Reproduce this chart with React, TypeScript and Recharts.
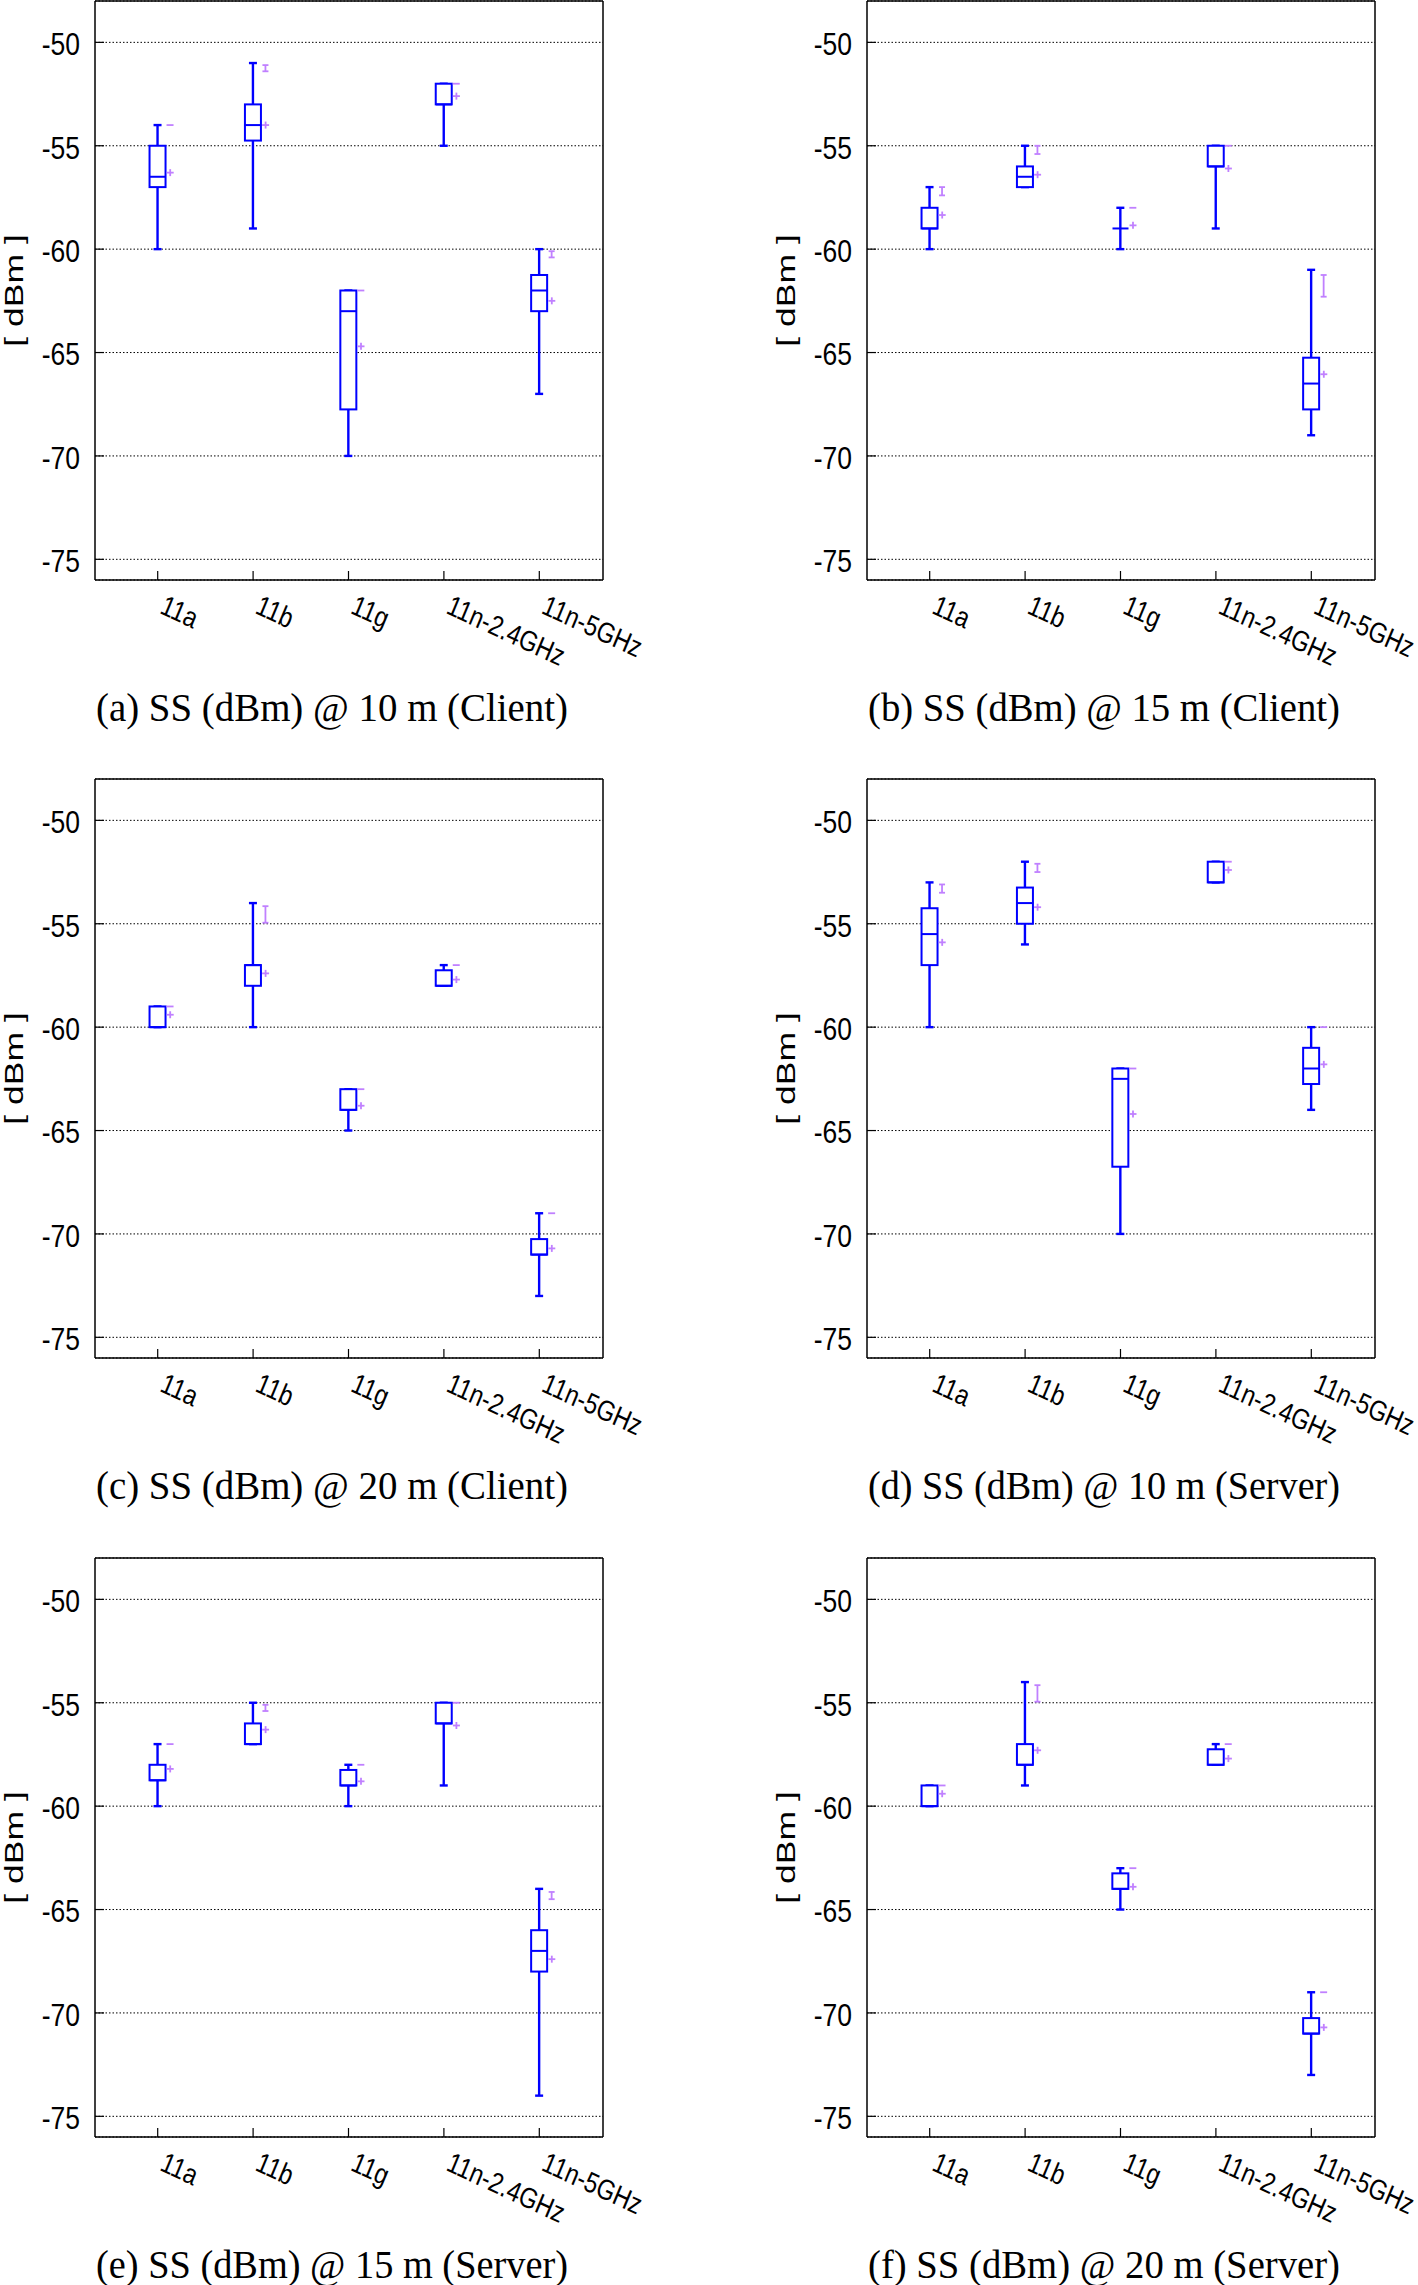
import React from "react";
import { ComposedChart, Bar, Scatter, XAxis, YAxis, CartesianGrid, Label } from "recharts";

const categories = ["11a", "11b", "11g", "11n-2.4GHz", "11n-5GHz"];
const yTicks = [-75, -70, -65, -60, -55, -50];

// (a) 10 m, client
const c10Min = [-60, -59, -70, -55, -67];
const c10Q1 = [-57, -54.75, -67.75, -53, -63];
const c10Med = [-56.5, -54, -63, -53, -62];
const c10Q3 = [-55, -53, -62, -52, -61.25];
const c10Max = [-54, -51, -62, -52, -60];
const c10Mean = [-56.3, -54, -64.7, -52.6, -62.5];
const c10ErrLo = [-54, -51.4, -62, -52, -60.4];
const c10ErrHi = [-54, -51.1, -62, -52, -60.1];

// (b) 15 m, client
const c15Min = [-60, -57, -60, -59, -69];
const c15Q1 = [-59, -57, -59, -56, -67.75];
const c15Med = [-59, -56.5, -59, -56, -66.5];
const c15Q3 = [-58, -56, -59, -55, -65.25];
const c15Max = [-57, -55, -58, -55, -61];
const c15Mean = [-58.35, -56.4, -58.85, -56.1, -66.05];
const c15ErrLo = [-57.4, -55.4, -58, -55, -62.3];
const c15ErrHi = [-57, -55, -58, -55, -61.25];

// (c) 20 m, client
const c20Min = [-60, -60, -65, -58, -73];
const c20Q1 = [-60, -58, -64, -58, -71];
const c20Med = [-60, -57, -64, -58, -71];
const c20Q3 = [-59, -57, -63, -57.25, -70.25];
const c20Max = [-59, -54, -63, -57, -69];
const c20Mean = [-59.4, -57.4, -63.8, -57.7, -70.7];
const c20ErrLo = [-59, -54.95, -63, -57, -69];
const c20ErrHi = [-59, -54.15, -63, -57, -69];

// (d) 10 m, server
const s10Min = [-60, -56, -70, -53, -64];
const s10Q1 = [-57, -55, -66.75, -53, -62.75];
const s10Med = [-55.5, -54, -62.5, -53, -62];
const s10Q3 = [-54.25, -53.25, -62, -52, -61];
const s10Max = [-53, -52, -62, -52, -60];
const s10Mean = [-55.9, -54.2, -64.2, -52.4, -61.8];
const s10ErrLo = [-53.5, -52.5, -62, -52, -60];
const s10ErrHi = [-53.1, -52.1, -62, -52, -60];

// (e) 15 m, server
const s15Min = [-60, -57, -60, -59, -74];
const s15Q1 = [-58.75, -57, -59, -56, -68];
const s15Med = [-58.75, -57, -59, -56, -67];
const s15Q3 = [-58, -56, -58.25, -55, -66];
const s15Max = [-57, -55, -58, -55, -64];
const s15Mean = [-58.2, -56.3, -58.8, -56.1, -67.4];
const s15ErrLo = [-57, -55.4, -58, -55, -64.5];
const s15ErrHi = [-57, -55.1, -58, -55, -64.15];

// (f) 20 m, server
const s20Min = [-60, -59, -65, -58, -73];
const s20Q1 = [-60, -58, -64, -58, -71];
const s20Med = [-60, -58, -64, -58, -71];
const s20Q3 = [-59, -57, -63.25, -57.25, -70.25];
const s20Max = [-59, -54, -63, -57, -69];
const s20Mean = [-59.4, -57.3, -63.9, -57.7, -70.7];
const s20ErrLo = [-59, -54.95, -63, -57, -69];
const s20ErrHi = [-59, -54.15, -63, -57, -69];

const BLUE = "#0000ff";
const MAGENTA = "#c080ff";
const SANS = "'Liberation Sans', Arial, Helvetica, sans-serif";
const SERIF = "'Liberation Serif', 'Times New Roman', serif";
const MAG_DX = 12.5;

type Stats = {
  min: number[]; q1: number[]; med: number[]; q3: number[]; max: number[];
  mean: number[]; errLo: number[]; errHi: number[];
};

const buildRows = (s: Stats) =>
  categories.map((name, i) => ({
    name,
    min: s.min[i], q1: s.q1[i], med: s.med[i], q3: s.q3[i], max: s.max[i],
    mean: s.mean[i], errLo: s.errLo[i], errHi: s.errHi[i],
  }));

const span = (p: any) => {
  const a = p.y, b = p.y + p.height;
  return { cx: p.x + p.width / 2, top: Math.min(a, b), bot: Math.max(a, b) };
};

const Whisker = (p: any) => {
  const { cx, top, bot } = span(p);
  return (
    <g stroke={BLUE} strokeWidth={2.4} fill="none">
      <line x1={cx} x2={cx} y1={top} y2={bot} />
      <line x1={cx - 4} x2={cx + 4} y1={top} y2={top} />
      <line x1={cx - 4} x2={cx + 4} y1={bot} y2={bot} />
    </g>
  );
};

const BoxShape = (p: any) => {
  const { cx, top, bot } = span(p);
  return <rect x={cx - 8} y={top} width={16} height={bot - top} fill="#fff" stroke={BLUE} strokeWidth={2} />;
};

const ErrShape = (p: any) => {
  const { cx, top, bot } = span(p);
  const x = cx + MAG_DX;
  if (bot - top < 1) {
    return <line x1={x - 3.5} x2={x + 3.5} y1={top} y2={top} stroke={MAGENTA} strokeWidth={1.8} />;
  }
  return (
    <g stroke={MAGENTA} strokeWidth={1.8}>
      <line x1={x} x2={x} y1={top} y2={bot} />
      <line x1={x - 3} x2={x + 3} y1={top} y2={top} />
      <line x1={x - 3} x2={x + 3} y1={bot} y2={bot} />
    </g>
  );
};

const MedianShape = (p: any) => (
  <line x1={p.cx - 8} x2={p.cx + 8} y1={p.cy} y2={p.cy} stroke={BLUE} strokeWidth={2} />
);

const MeanShape = (p: any) => {
  const x = p.cx + MAG_DX;
  return (
    <g stroke={MAGENTA} strokeWidth={1.8}>
      <line x1={x - 3.5} x2={x + 3.5} y1={p.cy} y2={p.cy} />
      <line x1={x} x2={x} y1={p.cy - 3.5} y2={p.cy + 3.5} />
    </g>
  );
};

const YTick = (p: any) => (
  <text
    transform={`translate(${p.x},${p.y}) scale(1.06,1.28)`}
    y={10}
    textAnchor="end"
    fontFamily={SANS}
    fontSize={25}
    fill="#000"
  >
    {p.payload.value}
  </text>
);

const XTick = (p: any) => (
  <text
    transform={`translate(${p.x + 1},${p.y}) scale(1,1.28) rotate(20) skewX(-8)`}
    textAnchor="start"
    fontFamily={SANS}
    fontSize={23}
    fill="#000"
  >
    {p.payload.value}
  </text>
);

const YLabel = (p: any) => {
  const vb = p.viewBox || { x: 0, y: 0, height: 0 };
  return (
    <text
      transform={`translate(${vb.x + 14},${vb.y + vb.height / 2}) scale(1,1.28) rotate(-90)`}
      textAnchor="middle"
      dominantBaseline="central"
      fontFamily={SANS}
      fontSize={26}
      textLength={88}
      lengthAdjust="spacingAndGlyphs"
      fill="#000"
    >
      [ dBm ]
    </text>
  );
};

const PAD = { left: 15, right: 16 };
const frame = { stroke: "#000", strokeWidth: 1.5 };
const tickMark = { stroke: "#000", strokeWidth: 1.2 };

function Panel({ left, top, caption, stats }: { left: number; top: number; caption: string; stats: Stats }) {
  const data = buildRows(stats);
  return (
    <div style={{ position: "absolute", left, top, width: 646, height: 760 }}>
      <ComposedChart width={646} height={700} data={data} margin={{ top: 0, right: 42, bottom: 0, left: 0 }}>
        <XAxis
          xAxisId="w"
          dataKey="name"
          type="category"
          padding={PAD}
          height={120}
          interval={0}
          tickSize={-9}
          tickMargin={41.7}
          tick={XTick}
          axisLine={frame}
          tickLine={tickMark}
        />
        <XAxis xAxisId="b" dataKey="name" type="category" orientation="top" padding={PAD} height={0} hide />
        <XAxis
          xAxisId="t"
          dataKey="name"
          type="category"
          orientation="top"
          padding={PAD}
          height={1}
          interval={0}
          tickSize={-9}
          tick={false}
          axisLine={frame}
          tickLine={tickMark}
        />
        <YAxis
          yAxisId="l"
          type="number"
          domain={[-76, -48]}
          ticks={yTicks}
          allowDataOverflow
          width={95}
          interval={0}
          tickSize={-9}
          tickMargin={24}
          tick={YTick}
          axisLine={frame}
          tickLine={tickMark}
        >
          <Label content={YLabel} />
        </YAxis>
        <YAxis
          yAxisId="r"
          orientation="right"
          type="number"
          domain={[-76, -48]}
          ticks={yTicks}
          allowDataOverflow
          width={1}
          interval={0}
          tickSize={-9}
          tick={false}
          axisLine={frame}
          tickLine={tickMark}
        />
        <CartesianGrid xAxisId="w" yAxisId="l" vertical={false} stroke="#000" strokeWidth={1} strokeDasharray="1.5 2" />
        <Bar xAxisId="w" yAxisId="l" dataKey={(d: any) => [d.min, d.max]} shape={Whisker} isAnimationActive={false} />
        <Bar xAxisId="b" yAxisId="r" dataKey={(d: any) => [d.q1, d.q3]} shape={BoxShape} isAnimationActive={false} />
        <Bar xAxisId="t" yAxisId="r" dataKey={(d: any) => [d.errLo, d.errHi]} shape={ErrShape} isAnimationActive={false} />
        <Scatter xAxisId="w" yAxisId="l" dataKey="med" shape={MedianShape} isAnimationActive={false} />
        <Scatter xAxisId="w" yAxisId="l" dataKey="mean" shape={MeanShape} isAnimationActive={false} />
      </ComposedChart>
      <svg style={{ position: "absolute", left: 0, top: 0 }} width={646} height={760}>
        <text x={96} y={721} fontFamily={SERIF} fontSize={39} textLength={472} lengthAdjust="spacingAndGlyphs" fill="#000">
          {caption}
        </text>
      </svg>
    </div>
  );
}

const panels = [
  { caption: "(a) SS (dBm) @ 10 m (Client)", left: 0, top: 0, stats: { min: c10Min, q1: c10Q1, med: c10Med, q3: c10Q3, max: c10Max, mean: c10Mean, errLo: c10ErrLo, errHi: c10ErrHi } },
  { caption: "(b) SS (dBm) @ 15 m (Client)", left: 772, top: 0, stats: { min: c15Min, q1: c15Q1, med: c15Med, q3: c15Q3, max: c15Max, mean: c15Mean, errLo: c15ErrLo, errHi: c15ErrHi } },
  { caption: "(c) SS (dBm) @ 20 m (Client)", left: 0, top: 778, stats: { min: c20Min, q1: c20Q1, med: c20Med, q3: c20Q3, max: c20Max, mean: c20Mean, errLo: c20ErrLo, errHi: c20ErrHi } },
  { caption: "(d) SS (dBm) @ 10 m (Server)", left: 772, top: 778, stats: { min: s10Min, q1: s10Q1, med: s10Med, q3: s10Q3, max: s10Max, mean: s10Mean, errLo: s10ErrLo, errHi: s10ErrHi } },
  { caption: "(e) SS (dBm) @ 15 m (Server)", left: 0, top: 1557, stats: { min: s15Min, q1: s15Q1, med: s15Med, q3: s15Q3, max: s15Max, mean: s15Mean, errLo: s15ErrLo, errHi: s15ErrHi } },
  { caption: "(f) SS (dBm) @ 20 m (Server)", left: 772, top: 1557, stats: { min: s20Min, q1: s20Q1, med: s20Med, q3: s20Q3, max: s20Max, mean: s20Mean, errLo: s20ErrLo, errHi: s20ErrHi } },
];

export default function App() {
  return (
    <div style={{ position: "absolute", left: 0, top: 0, width: 1418, height: 2285, background: "#fff", overflow: "hidden" }}>
      {panels.map((p) => (
        <Panel key={p.caption} left={p.left} top={p.top} caption={p.caption} stats={p.stats} />
      ))}
    </div>
  );
}
